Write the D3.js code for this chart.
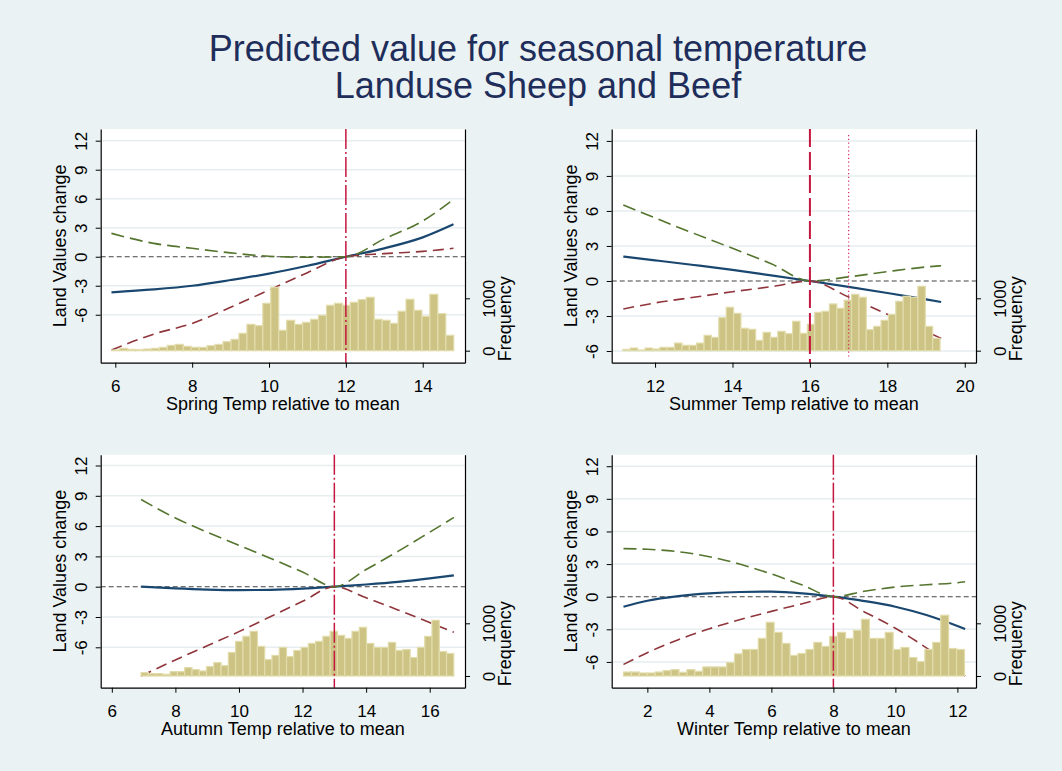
<!DOCTYPE html>
<html>
<head>
<meta charset="utf-8">
<script src="https://cdn.jsdelivr.net/npm/d3@7"></script>
<style>
  body { margin: 0; background: #eaf2f3; }
  text { font-family: "Liberation Sans", Arial, sans-serif; }
</style>
</head>
<body>
<div id="chart"></div>
<script>
// ---- values ----
var yTicks = [-6, -3, 0, 3, 6, 9, 12];
var freqTicks = [0, 1000];

// Spring
var springX = [5.9, 7, 8, 9, 10, 11, 12, 13, 14, 14.8];
var springFit = [-3.68, -3.38, -3.0, -2.41, -1.75, -0.93, 0, 0.87, 2.0, 3.35];
var springLower = [-9.65, -8.0, -6.9, -5.23, -3.45, -1.65, 0, 0.32, 0.55, 0.87];
var springUpper = [2.42, 1.38, 0.87, 0.4, 0.05, -0.05, 0, 1.85, 3.7, 5.93];
var springFreq = [13, 45, 25, 19, 32, 45, 64, 102, 121, 83, 64, 64, 96, 121, 172, 217, 331, 503, 478, 904, 1210, 389, 580, 503, 541, 599, 675, 866, 904, 866, 924, 975, 1019, 599, 580, 522, 752, 981, 771, 656, 1076, 707, 293];
var springBins = [5.906, 0.207];
var springTicks = [6, 8, 10, 12, 14];

// Summer
var summerX = [11.18, 12, 13, 14, 15, 16, 17, 18, 19, 19.39];
var summerFit = [2.09, 1.77, 1.37, 0.95, 0.48, 0, -0.5, -1.03, -1.58, -1.8];
var summerLower = [-2.4, -1.88, -1.4, -0.92, -0.49, 0, -1.38, -2.85, -4.35, -4.91];
var summerUpper = [6.51, 5.4, 4.08, 2.8, 1.48, 0, 0.35, 0.8, 1.2, 1.31];
var summerFreq = [25, 51, 13, 51, 32, 64, 64, 146, 102, 102, 146, 293, 255, 631, 828, 713, 427, 408, 197, 350, 255, 369, 325, 561, 331, 503, 732, 752, 892, 809, 962, 1076, 1019, 401, 465, 580, 694, 943, 1038, 1019, 1229, 465, 236];
var summerBins = [11.17, 0.1905];
var summerTicks = [12, 14, 16, 18, 20];

// Autumn
var autumnX = [6.92, 8, 9, 10, 11, 12, 13, 14, 15, 16, 16.76];
var autumnFit = [0, -0.17, -0.28, -0.33, -0.31, -0.2, 0, 0.22, 0.48, 0.82, 1.12];
var autumnLower = [-8.84, -7.25, -5.85, -4.45, -2.95, -1.45, 0, -1.1, -2.3, -3.55, -4.52];
var autumnUpper = [8.64, 6.8, 5.4, 4.1, 2.8, 1.45, 0, 1.7, 3.5, 5.4, 6.86];
var autumnFreq = [64, 45, 45, 32, 83, 83, 159, 121, 96, 178, 255, 197, 446, 656, 752, 847, 561, 312, 389, 541, 369, 484, 541, 618, 656, 752, 847, 771, 713, 847, 924, 618, 541, 541, 637, 484, 503, 350, 541, 752, 1057, 465, 427];
var autumnBins = [6.92, 0.2288];
var autumnTicks = [6, 8, 10, 12, 14, 16];

// Winter
var winterX = [1.23, 2, 3, 4, 5, 6, 7, 8, 9, 10, 11, 12, 12.25];
var winterFit = [-0.92, -0.37, 0.06, 0.31, 0.43, 0.46, 0.31, 0, -0.4, -0.92, -1.69, -2.7, -2.98];
var winterLower = [-6.23, -5.15, -3.95, -2.95, -2.1, -1.35, -0.65, 0, -1.4, -2.9, -4.7, -6.7, -7.3];
var winterUpper = [4.42, 4.36, 4.14, 3.68, 2.98, 2.09, 1.07, 0, 0.5, 0.89, 1.1, 1.29, 1.38];
var winterFreq = [76, 76, 57, 57, 76, 102, 121, 70, 121, 89, 172, 172, 172, 255, 420, 503, 503, 713, 1019, 828, 618, 389, 427, 503, 637, 561, 752, 828, 713, 866, 1076, 713, 713, 828, 503, 541, 350, 274, 503, 637, 1153, 522, 503];
var winterBins = [1.23, 0.2558];
var winterTicks = [2, 4, 6, 8, 10, 12];

var titleLines = ["Predicted value for seasonal temperature", "Landuse Sheep and Beef"];

// ---- layout ----
var W = 1062, H = 771;
var navy = "#1a476f", green = "#55752f", maroon = "#90353b", crimson = "#c4173f";

var panels = [
  { label: "Spring Temp relative to mean", x: springX, fit: springFit, lo: springLower, hi: springUpper,
    freq: springFreq, bins: springBins, ticks: springTicks, xDomain: [5.62, 15.1], yDomain: [-10.96, 13.21], y2Domain: [-229, 4231],
    refs: [{ v: 12, kind: "dashdot" }], box: [100.7, 129, 364.3, 233.7] },
  { label: "Summer Temp relative to mean", x: summerX, fit: summerFit, lo: summerLower, hi: summerUpper,
    freq: summerFreq, bins: summerBins, ticks: summerTicks, xDomain: [10.88, 20.29], yDomain: [-7.0, 13.02], y2Domain: [-229, 4231],
    refs: [{ v: 16, kind: "longdash" }, { v: 17, kind: "dot" }], box: [611.7, 129, 364.3, 233.7] },
  { label: "Autumn Temp relative to mean", x: autumnX, fit: autumnFit, lo: autumnLower, hi: autumnUpper,
    freq: autumnFreq, bins: autumnBins, ticks: autumnTicks, xDomain: [5.65, 17.11], yDomain: [-10.0, 13.07], y2Domain: [-222, 4199],
    refs: [{ v: 13, kind: "dashdot" }], box: [100.7, 454.7, 364.3, 233] },
  { label: "Winter Temp relative to mean", x: winterX, fit: winterFit, lo: winterLower, hi: winterUpper,
    freq: winterFreq, bins: winterBins, ticks: winterTicks, xDomain: [0.85, 12.6], yDomain: [-8.37, 13.06], y2Domain: [-222, 4199],
    refs: [{ v: 8, kind: "dashdot" }], box: [611.7, 454.7, 364.3, 233] }
];

var svg = d3.select("#chart").append("svg").attr("width", W).attr("height", H);
svg.append("rect").attr("width", W).attr("height", H).attr("fill", "#eaf2f3");

svg.selectAll(".title")
  .data(titleLines)
  .enter()
  .append("text")
  .attr("class", "title")
  .attr("x", 538)
  .attr("y", function (d, i) { return 61 + i * 36.7; })
  .attr("text-anchor", "middle")
  .attr("font-size", 36)
  .attr("fill", "#1e2d5a")
  .text(function (d) { return d; });

panels.forEach(drawPanel);

function drawPanel(p) {
  var left = p.box[0], top = p.box[1], w = p.box[2], h = p.box[3];
  var xs = d3.scaleLinear().domain(p.xDomain).range([left, left + w]);
  var ys = d3.scaleLinear().domain(p.yDomain).range([top + h, top]);
  var y2 = d3.scaleLinear().domain(p.y2Domain).range([top + h, top]);
  var g = svg.append("g");

  g.append("rect").attr("x", left).attr("y", top).attr("width", w).attr("height", h).attr("fill", "#fff");

  // gridlines
  g.selectAll(".grid")
    .data(yTicks.filter(function (t) { return t !== 0; }))
    .enter()
    .append("line")
    .attr("x1", left).attr("x2", left + w)
    .attr("y1", function (d) { return ys(d); })
    .attr("y2", function (d) { return ys(d); })
    .attr("stroke", "#e6eef0")
    .attr("stroke-width", 1.5);

  // zero line
  g.append("line")
    .attr("x1", left).attr("x2", left + w)
    .attr("y1", ys(0)).attr("y2", ys(0))
    .attr("stroke", "#444")
    .attr("stroke-width", 1.1)
    .attr("stroke-dasharray", "5,3");

  var rows = p.x.map(function (v, i) { return { x: v, fit: p.fit[i], lo: p.lo[i], hi: p.hi[i] }; });
  function mk(key) {
    return d3.line().curve(d3.curveMonotoneX)
      .x(function (d) { return xs(d.x); })
      .y(function (d) { return ys(d[key]); });
  }
  g.append("path").datum(rows).attr("d", mk("fit")).attr("fill", "none")
    .attr("stroke", navy).attr("stroke-width", 2.2);
  g.append("path").datum(rows).attr("d", mk("lo")).attr("fill", "none")
    .attr("stroke", maroon).attr("stroke-width", 1.6).attr("stroke-dasharray", "11,6");
  g.append("path").datum(rows).attr("d", mk("hi")).attr("fill", "none")
    .attr("stroke", green).attr("stroke-width", 1.6).attr("stroke-dasharray", "13,6");

  // histogram on the second axis
  var start = p.bins[0], bw = p.bins[1];
  g.selectAll(".bar")
    .data(p.freq)
    .enter()
    .append("rect")
    .attr("class", "bar")
    .attr("x", function (d, i) { return xs(start + i * bw); })
    .attr("width", function (d, i) { return xs(start + (i + 1) * bw) - xs(start + i * bw); })
    .attr("y", function (d) { return y2(d); })
    .attr("height", function (d) { return y2(0) - y2(d); })
    .attr("fill", "#ccc385")
    .attr("stroke", "#e2dcab")
    .attr("stroke-width", 1.2);

  // reference lines
  p.refs.forEach(function (r) {
    var ln = g.append("line")
      .attr("x1", xs(r.v)).attr("x2", xs(r.v))
      .attr("y1", top).attr("y2", top + h)
      .attr("stroke", crimson);
    if (r.kind === "dashdot") ln.attr("stroke-width", 1.5).attr("stroke-dasharray", "20,3,2,3");
    else if (r.kind === "longdash") ln.attr("stroke-width", 2).attr("stroke-dasharray", "18,5");
    else ln.attr("y1", top + 6).attr("y2", top + h - 4).attr("stroke", "#d6306a").attr("stroke-width", 1.2).attr("stroke-dasharray", "1.2,2.6");
  });

  // axes
  var ax = g.append("g").attr("transform", "translate(" + left + ",0)")
    .call(d3.axisLeft(ys).tickValues(yTicks).tickSize(5).tickSizeOuter(0).tickFormat(function (d) { return String(d); }));
  ax.selectAll("text")
    .attr("transform", "rotate(-90)")
    .attr("x", 0).attr("y", -14).attr("dy", 0)
    .attr("text-anchor", "middle");

  var ax2 = g.append("g").attr("transform", "translate(" + (left + w) + ",0)")
    .call(d3.axisRight(y2).tickValues(freqTicks).tickSize(5).tickSizeOuter(0).tickFormat(function (d) { return String(d); }));
  ax2.selectAll("text")
    .attr("transform", "rotate(-90)")
    .attr("x", 0).attr("y", 30).attr("dy", 0)
    .attr("text-anchor", "middle");

  var axb = g.append("g").attr("transform", "translate(0," + (top + h) + ")")
    .call(d3.axisBottom(xs).tickValues(p.ticks).tickSize(5).tickSizeOuter(0).tickFormat(function (d) { return String(d); }));
  axb.selectAll("text").attr("y", 29).attr("dy", 0);

  [ax, ax2, axb].forEach(function (a) {
    a.attr("font-size", 17).attr("font-family", "Liberation Sans, Arial, sans-serif");
    a.selectAll("text").attr("fill", "#000");
    a.selectAll("line").attr("stroke", "#000");
    a.select(".domain").attr("stroke", "#000").attr("stroke-width", 1.2);
  });

  // axis titles
  g.append("text")
    .attr("transform", "translate(" + (left - 34.5) + "," + (top + h / 2) + ") rotate(-90)")
    .attr("text-anchor", "middle")
    .attr("font-size", 18)
    .text("Land Values change");
  g.append("text")
    .attr("transform", "translate(" + (left + w + 46) + "," + (top + h - 44) + ") rotate(-90)")
    .attr("text-anchor", "middle")
    .attr("font-size", 18)
    .text("Frequency");
  g.append("text")
    .attr("x", left + w / 2)
    .attr("y", top + h + 47)
    .attr("text-anchor", "middle")
    .attr("font-size", 18)
    .text(p.label);
}
</script>
</body>
</html>
